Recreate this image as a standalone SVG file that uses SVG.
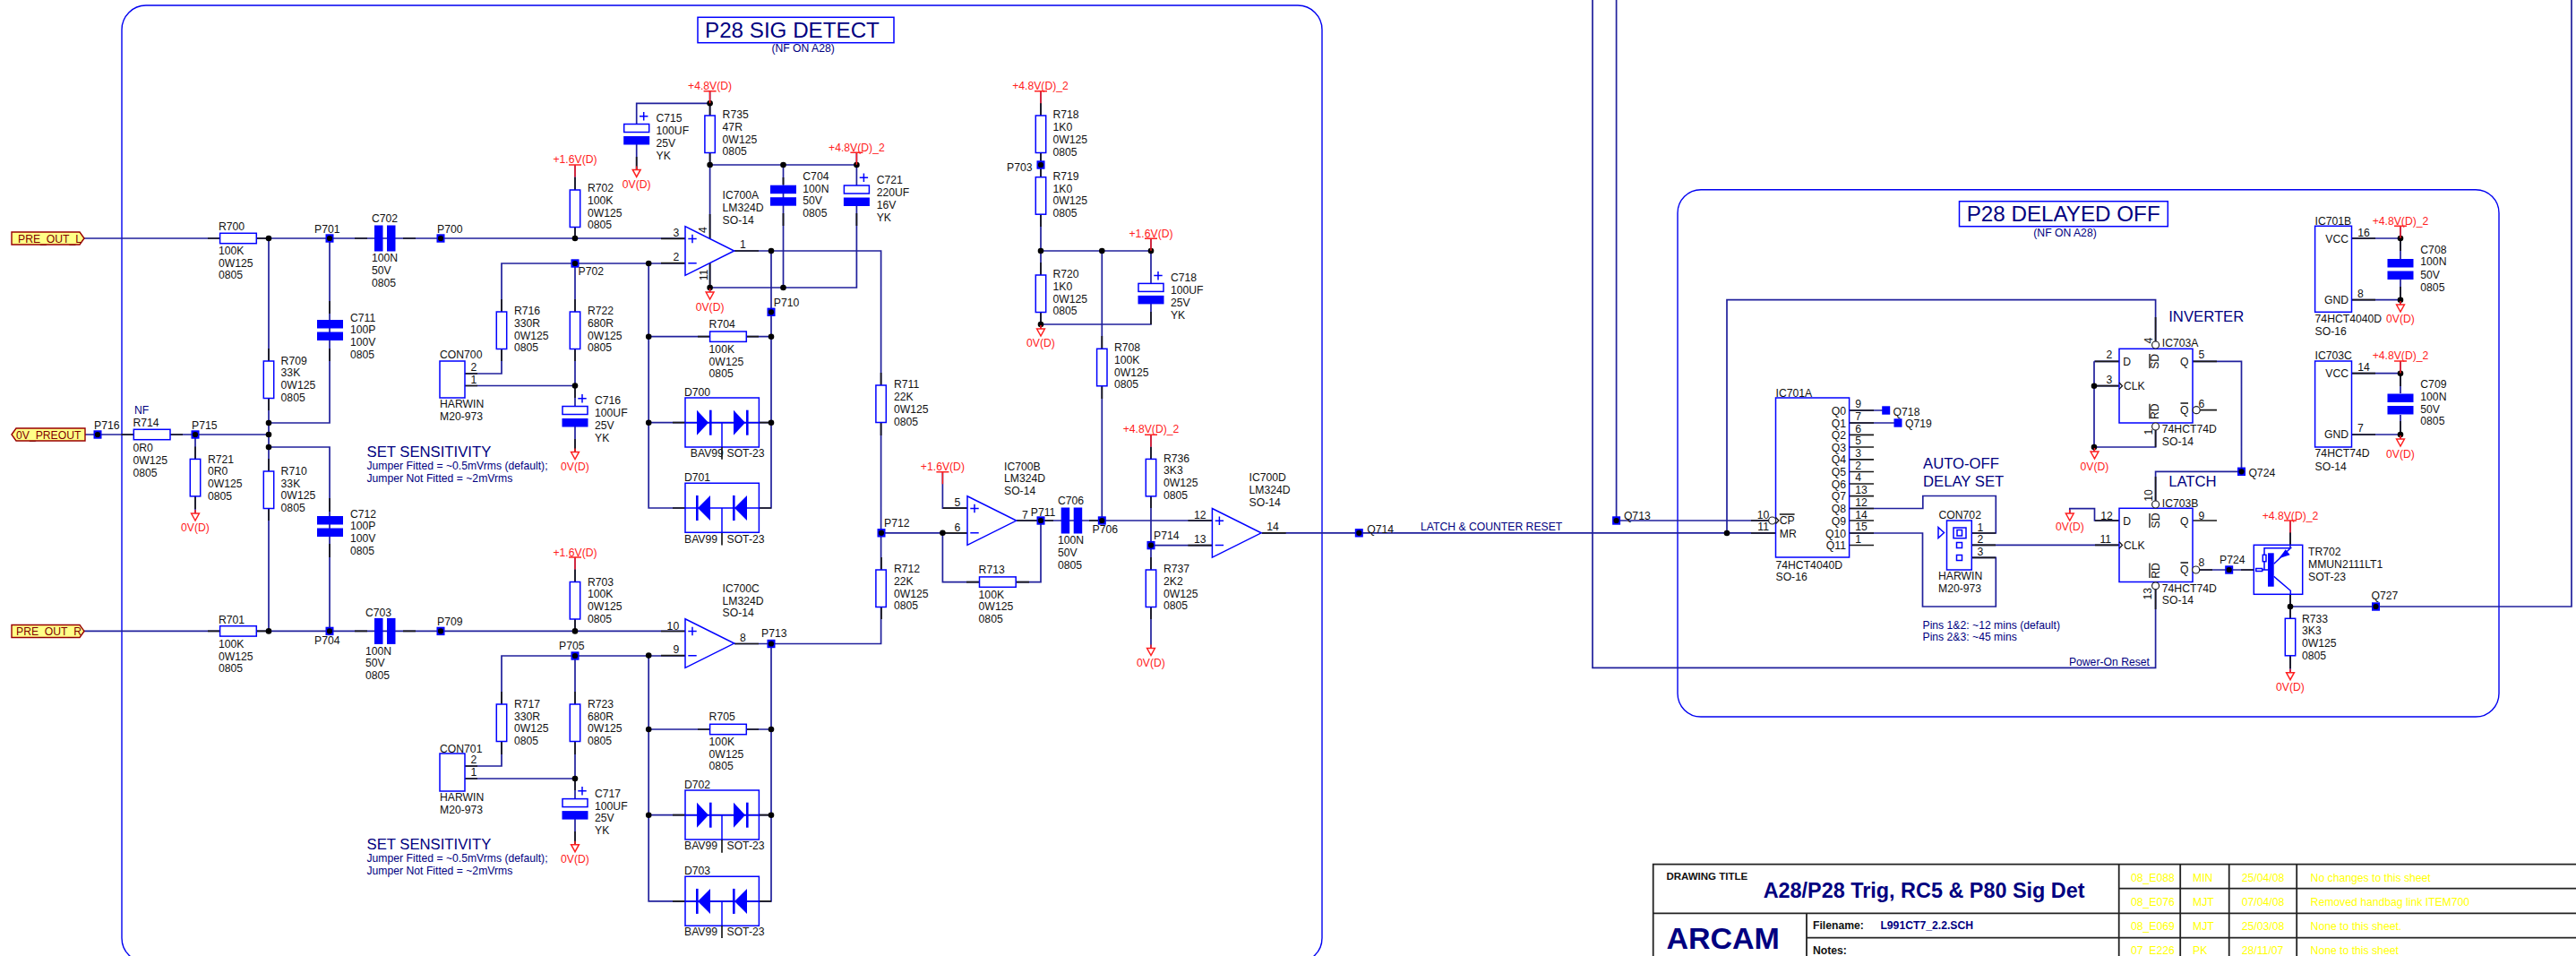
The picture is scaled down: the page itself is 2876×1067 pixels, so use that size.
<svg xmlns="http://www.w3.org/2000/svg" width="2876" height="1067" viewBox="0 0 2876 1067">
<style>
text{font-family:"Liberation Sans",Arial,sans-serif;font-size:12.2px;fill:#111}
.r{fill:#ff2020}.n{fill:#000080}.c{text-anchor:middle}.e{text-anchor:end}
.h{font-size:16.7px}.big{font-size:24.2px}
.b{font-weight:bold}.y{fill:#ffff00}.tag{fill:#800000}
.fr{fill:none;stroke:#0000f0;stroke-width:1.4}
.w{fill:none;stroke:#20209c;stroke-width:1.7}
.s{fill:none;stroke:#1a1a1a;stroke-width:1.7}
.p{fill:#fff;stroke:#0000ff;stroke-width:1.5}
.o{fill:none;stroke:#0000ff;stroke-width:1.5}
.f{fill:#0000ff}
.bl{fill:none;stroke:#0000ff;stroke-width:1.5}
.rl{fill:none;stroke:#ff2020;stroke-width:1.5}
.bb{fill:#fff;stroke:#222;stroke-width:1.2}
.k{fill:none;stroke:#111;stroke-width:1.3}
.tg{fill:#ffff88;stroke:#990000;stroke-width:1.4}
.tb{fill:none;stroke:#222;stroke-width:1.8}
</style>
<defs>
<rect id="rv" class="p" x="-5.7" y="0" width="11.4" height="41.5"/>
<rect id="rh" class="p" x="0" y="-5.7" width="40.7" height="11.4"/>
<g id="cv"><rect class="f" x="-14.5" y="0" width="29" height="9.5"/><rect class="f" x="-14.5" y="13.5" width="29" height="9.5"/></g>
<g id="ch"><rect class="f" x="0" y="-14.5" width="9.5" height="29"/><rect class="f" x="14" y="-14.5" width="9.5" height="29"/></g>
<g id="cp"><rect class="p" x="-14" y="0" width="28" height="9"/><rect class="f" x="-14.5" y="13.5" width="29" height="9.5"/><path class="bl" d="M8 -13.5V-4M3.3 -8.8H12.7"/></g>
<g id="op"><path class="p" d="M0 0V54.6L54.7 27.3Z"/><path class="bl" d="M8 9V18.5M3.3 13.7H12.7M3.3 41H12.7"/></g>
<g id="dr"><path class="o" d="M0 -27.7H82.4V27.3H0Z"/><path class="bl" d="M0 0H82.4M41 0V27.3"/><path class="f" d="M13 -14L26 0L13 14Z"/><rect class="f" x="27" y="-14" width="2.6" height="28"/><path class="f" d="M54 -14L67 0L54 14Z"/><rect class="f" x="68" y="-14" width="2.6" height="28"/></g>
<g id="dl"><path class="o" d="M0 -27.7H82.4V27.3H0Z"/><path class="bl" d="M0 0H82.4M41 0V27.3"/><path class="f" d="M28 -14L14 0L28 14Z"/><rect class="f" x="12" y="-14" width="2.6" height="28"/><path class="f" d="M69 -14L55 0L69 14Z"/><rect class="f" x="53" y="-14" width="2.6" height="28"/></g>
<g id="tp"><rect class="f" x="-4.5" y="-4.7" width="9" height="9.4"/><circle r="3.1" fill="#000"/></g>
<rect id="tq" class="f" x="-4.5" y="-4.7" width="9" height="9.4"/>
<circle id="j" r="3.3" fill="#000"/>
<path id="vt" class="rl" d="M-7 0H7M0 0V13.5"/>
<path id="gn" class="rl" d="M0 -4V0M-4.4 0H4.4L0 8Z"/>
</defs>
<rect width="2876" height="1067" fill="#fff"/>

<g id="frames">
<rect class="fr" x="136" y="6" width="1340" height="1068" rx="27" ry="27"/>
<rect class="fr" x="1873" y="211.7" width="917" height="588.3" rx="26" ry="26"/>
</g>

<g id="connectors">
<path class="w" d="M94 266H765M300 266V704.4M368 266V472H300M300 499H368V704.4M95 485H300M218 485V573M94 704.4H765M642 184V266M519 417H560V294H765M642 294V453M519 430.5H642M642 476V504M642 622V704.4M519 855H560V732H765M642 732V892M519 869H642M642 914V943M710.7 138V115.3H792.6M792.6 102V326M710.7 161V189M792.6 184H956.4M956.4 171V207M956.4 230V321H792.6M874.5 184V321M820 280H983.6V718.5H820M861 280V567H847M765 567H724.2V294M724.2 375.7H861M724.2 471.7H861M861 718.5V1005.9H724.2V731.6M724.2 814H861M724.2 909.7H861M984 594.8H1080M1052.4 527V567.2H1080M1052.4 594.8V649.6H1162V581M1134.8 581H1353.4M1230.3 581V280M1162 102V367M1162 280H1285M1285 267V316M1285 339V362H1162M1285 486V723.5M1285 608.6H1353.4M1408.7 594.8H1982.5M1928 595V334.7H2406.6V381M1778 0V745.3H2406.6V654M1804.6 0V581H1974M2064.6 458H2105M2064.6 472H2119M2064.6 567.5H2146.8V553.5H2228.3V595H2201.3M2064.6 595H2146.5V677H2228.3V622.3H2201.3M2201.3 608.4H2366M2338 403.3H2366M2338 403.3V504M2338 430.7H2366M2338 499H2406.6V480M2448 403.3H2502.5V526.3H2406.6V559M2310.8 573V567.7H2338.5V581H2366M2456 636H2516M2557 581V611.7M2557 663V751M2557 677H2871V0M2625.5 266H2680M2680 252V289M2680 312V340M2625.5 334.7H2680M2625.5 416.7H2680M2680 403V439M2680 463V490M2625.5 485H2680"/>
<path class="s" d="M232 266H246M286 266H300M232 704.4H246M286 704.4H300M135.5 485H149M190.5 485H204M396 266H410M450 266H464M396 704.4H410M450 704.4H464M642 198V212M642 253V267M642 635.5V649.5M642 691V704M642 334V348M642 390V403M560 334V348M560 390V403M560 772V786M560 828V842M642 772V786M642 828V842M300 389V403M300 444V458M300 512V526M300 568V581M218 498.5V512.4M218 554V568M368 336V350M368 389V403M368 556V571M368 607V622M519 417H533M519 430.5H533M519 855H533M519 869H533M642 430V444M642 490V504M642 869V882M642 928V943M792.6 115V129M792.6 170V184M710.7 175V189M738 266.3H765M738 293.7H765M820 280H847M792.6 239V266M792.6 294V321M738 704.5H765M738 731.6H765M820 718.5H847M1053 567.2H1080M1053 594.8H1080M1135 581H1162M1326.4 581H1353.4M1326.4 608.6H1353.4M1408.7 594.8H1435.7M779 375.7H792.6M833.3 375.7H847M779 814H792.6M833.3 814H847M751 471.7H765M847.4 471.7H861M751 567H765M847.4 567H861M751 909.7H765M847.4 909.7H861M751 1005.9H765M847.4 1005.9H861M983.6 416V430M983.6 472V486M984 622V636M984 677.5V691M1079 649.6H1093M1134.8 649.6H1149M1230.3 375V389M1230.3 430.7V445M1162 115V129M1162 170V184M1162 184V198M1162 239V253M1162 293V307M1162 348.7V362M1285 499V512.7M1285 553.7V567M1285 622V636M1285 677.5V691M1162 581H1176M1216 581H1230M1285 348V362M874.5 198V206M874.5 238V252M956.4 238V252M2064.6 458H2092M2064.6 472H2092M2064.6 485.3H2092M2064.6 499H2092M2064.6 512.9H2092M2064.6 526.5H2092M2064.6 540H2092M2064.6 553.7H2092M2064.6 567.5H2092M2064.6 581H2092M2064.6 595H2092M2064.6 608.5H2092M1955 581H1974M1955 595H1982.5M2339 403.3H2366M2339 430.7H2366M2406.6 354V381M2406.6 480V499M2448 403.3H2475M2456 457.7H2475M2201.3 595H2228M2201.3 608.4H2228M2201.3 622.3H2228M2448 581H2475M2339 581H2366M2339 608.4H2366M2406.6 654V680M2406.6 532V559M2456 636H2470M2502 636H2516M2557 677V690M2557 732V746M2557 594V608M2557 663V677M2625.5 266H2652M2625.5 334.7H2652M2625.5 416.7H2652M2625.5 485H2652M2680 266V280M2680 320V334M2680 417V431M2680 470V485"/>
<g id="junctions">
<use href="#j" x="300" y="266"/><use href="#j" x="642" y="266"/><use href="#j" x="300" y="472"/><use href="#j" x="300" y="485"/><use href="#j" x="300" y="499"/><use href="#j" x="300" y="704.4"/><use href="#j" x="642" y="704.4"/><use href="#j" x="642" y="430.5"/><use href="#j" x="642" y="869"/><use href="#j" x="792.6" y="115.3"/><use href="#j" x="792.6" y="184"/><use href="#j" x="874.5" y="184"/><use href="#j" x="956.4" y="184"/><use href="#j" x="792.6" y="321"/><use href="#j" x="874.5" y="321"/><use href="#j" x="861" y="280"/><use href="#j" x="724.2" y="294"/><use href="#j" x="724.2" y="375.7"/><use href="#j" x="861" y="375.7"/><use href="#j" x="724.2" y="471.7"/><use href="#j" x="861" y="471.7"/><use href="#j" x="724.2" y="731.6"/><use href="#j" x="724.2" y="814"/><use href="#j" x="861" y="814"/><use href="#j" x="724.2" y="909.7"/><use href="#j" x="861" y="909.7"/><use href="#j" x="1052.4" y="594.8"/><use href="#j" x="1162" y="280"/><use href="#j" x="1230.3" y="280"/><use href="#j" x="1285" y="280"/><use href="#j" x="1162" y="362"/><use href="#j" x="1928" y="595"/><use href="#j" x="2338" y="430.7"/><use href="#j" x="2338" y="499"/><use href="#j" x="2557" y="677"/><use href="#j" x="2680" y="266"/><use href="#j" x="2680" y="334.7"/><use href="#j" x="2680" y="416.7"/><use href="#j" x="2680" y="485"/>
</g>
</g>

<g id="tag-pre-out-l"><path class="tg" d="M13 259H89L94 266L89 273H13Z"/><text class="tag" x="20" y="270.5">PRE_OUT_L</text></g>
<g id="tag-pre-out-r"><path class="tg" d="M13 697.5H89L94 704.4L89 711.5H13Z"/><text class="tag" x="18" y="709">PRE_OUT_R</text></g>
<g id="tag-0v"><path class="tg" d="M13 485L18 478H95V492H18Z"/><text class="tag" x="18" y="489.5">0V_PREOUT</text></g>

<g id="title-sig"><rect class="p" x="779" y="19.3" width="219" height="28.4"/><text class="n big" x="787" y="41.7">P28 SIG DETECT</text><text class="n" x="861.4" y="58.3">(NF ON A28)</text></g>
<g id="title-off"><rect class="p" x="2187.5" y="224.7" width="232.8" height="28"/><text class="n big" x="2195.7" y="246.7">P28 DELAYED OFF</text><text class="n" x="2270.3" y="264">(NF ON A28)</text></g>

<g id="R700"><use href="#rh" x="245.6" y="266"/><text x="244" y="257">R700</text><text x="244" y="284">100K<tspan x="244" dy="14">0W125</tspan><tspan x="244" dy="13">0805</tspan></text></g>
<g id="R701"><use href="#rh" x="245.6" y="704.4"/><text x="244" y="695.5">R701</text><text x="244" y="722.5">100K<tspan x="244" dy="14">0W125</tspan><tspan x="244" dy="13.8">0805</tspan></text></g>
<g id="R714"><use href="#rh" x="149.3" y="485"/><text class="n" x="150" y="462">NF</text><text x="148.5" y="476">R714</text><text x="148.5" y="503.5">0R0<tspan x="148.5" dy="14">0W125</tspan><tspan x="148.5" dy="14">0805</tspan></text></g>
<g id="R721"><use href="#rv" x="218" y="512.4"/><text x="232" y="516.5">R721<tspan x="232" dy="13.5">0R0</tspan><tspan x="232" dy="14">0W125</tspan><tspan x="232" dy="14">0805</tspan></text><use href="#gn" x="218" y="573"/><text class="r c" x="218" y="592.5">0V(D)</text></g>
<g id="R709"><use href="#rv" x="300" y="403"/><text x="313.6" y="406.5">R709<tspan x="313.6" dy="13.7">33K</tspan><tspan x="313.6" dy="13.8">0W125</tspan><tspan x="313.6" dy="13.5">0805</tspan></text></g>
<g id="R710"><use href="#rv" x="300" y="526"/><text x="313.6" y="529.5">R710<tspan x="313.6" dy="14">33K</tspan><tspan x="313.6" dy="13.5">0W125</tspan><tspan x="313.6" dy="13.5">0805</tspan></text></g>
<g id="C711"><use href="#cv" x="368.5" y="357"/><text x="391" y="358.5">C711<tspan x="391" dy="13.5">100P</tspan><tspan x="391" dy="13.5">100V</tspan><tspan x="391" dy="14">0805</tspan></text></g>
<g id="C712"><use href="#cv" x="368.5" y="576"/><text x="391" y="577.5">C712<tspan x="391" dy="13.5">100P</tspan><tspan x="391" dy="14">100V</tspan><tspan x="391" dy="13.5">0805</tspan></text></g>
<g id="C702"><use href="#ch" x="418" y="266"/><text x="415" y="248">C702</text><text x="415" y="292">100N<tspan x="415" dy="14">50V</tspan><tspan x="415" dy="14">0805</tspan></text></g>
<g id="C703"><use href="#ch" x="418" y="704.4"/><text x="408" y="687.5">C703</text><text x="408" y="730.5">100N<tspan x="408" dy="13.8">50V</tspan><tspan x="408" dy="14">0805</tspan></text></g>
<g id="P701"><use href="#tp" x="368" y="266"/><text x="351" y="260">P701</text></g>
<g id="P700"><use href="#tp" x="492" y="266"/><text x="488" y="260">P700</text></g>
<g id="P716"><use href="#tp" x="109" y="485"/><text x="105" y="479">P716</text></g>
<g id="P715"><use href="#tp" x="218" y="485"/><text x="214" y="479">P715</text></g>
<g id="P704"><use href="#tp" x="368" y="704.4"/><text x="351" y="718.5">P704</text></g>
<g id="P709"><use href="#tp" x="492" y="704.4"/><text x="488" y="698">P709</text></g>
<g id="P702"><use href="#tp" x="642" y="294"/><text x="645.5" y="307">P702</text></g>
<g id="P705"><use href="#tp" x="642" y="732"/><text x="624" y="725">P705</text></g>

<g id="R702"><use href="#vt" x="642" y="184"/><text class="r c" x="642" y="182">+1.6V(D)</text><use href="#rv" x="642" y="212"/><text x="656" y="214">R702<tspan x="656" dy="14">100K</tspan><tspan x="656" dy="14.3">0W125</tspan><tspan x="656" dy="13">0805</tspan></text></g>
<g id="R703"><use href="#vt" x="642" y="622"/><text class="r c" x="642" y="620.5">+1.6V(D)</text><use href="#rv" x="642" y="649.5"/><text x="656" y="653.5">R703<tspan x="656" dy="13">100K</tspan><tspan x="656" dy="14">0W125</tspan><tspan x="656" dy="14">0805</tspan></text></g>
<g id="R716"><use href="#rv" x="560" y="348"/><text x="574" y="351">R716<tspan x="574" dy="14">330R</tspan><tspan x="574" dy="14">0W125</tspan><tspan x="574" dy="13">0805</tspan></text></g>
<g id="R722"><use href="#rv" x="642" y="348"/><text x="656" y="351">R722<tspan x="656" dy="14">680R</tspan><tspan x="656" dy="14">0W125</tspan><tspan x="656" dy="13">0805</tspan></text></g>
<g id="R717"><use href="#rv" x="560" y="786"/><text x="574" y="789.5">R717<tspan x="574" dy="14">330R</tspan><tspan x="574" dy="13.8">0W125</tspan><tspan x="574" dy="14">0805</tspan></text></g>
<g id="R723"><use href="#rv" x="642" y="786"/><text x="656" y="789.5">R723<tspan x="656" dy="14">680R</tspan><tspan x="656" dy="13.8">0W125</tspan><tspan x="656" dy="14">0805</tspan></text></g>
<g id="CON700"><rect class="o" x="491" y="403" width="28" height="41"/><text x="491" y="400">CON700</text><text class="c" x="529" y="414">2</text><text class="c" x="529" y="428">1</text><text x="491" y="455">HARWIN<tspan x="491" dy="14">M20-973</tspan></text></g>
<g id="CON701"><rect class="o" x="491" y="841" width="28" height="42"/><text x="491" y="839.5">CON701</text><text class="c" x="529" y="852">2</text><text class="c" x="529" y="866">1</text><text x="491" y="893.5">HARWIN<tspan x="491" dy="14">M20-973</tspan></text></g>
<g id="C716"><use href="#cp" x="642" y="453.5"/><text x="664" y="451">C716<tspan x="664" dy="14">100UF</tspan><tspan x="664" dy="14">25V</tspan><tspan x="664" dy="14">YK</tspan></text><use href="#gn" x="642" y="504.5"/><text class="r c" x="642" y="524.5">0V(D)</text></g>
<g id="C717"><use href="#cp" x="642" y="891.6"/><text x="664" y="890">C717<tspan x="664" dy="13.5">100UF</tspan><tspan x="664" dy="13.5">25V</tspan><tspan x="664" dy="14">YK</tspan></text><use href="#gn" x="642" y="942.7"/><text class="r c" x="642" y="962.5">0V(D)</text></g>
<g id="note-sens1"><text class="n h" x="409.5" y="509.6">SET SENSITIVITY</text><text class="n" x="409.5" y="524">Jumper Fitted = ~0.5mVrms (default);<tspan x="409.5" dy="13.5">Jumper Not Fitted = ~2mVrms</tspan></text></g>
<g id="note-sens2"><text class="n h" x="409.5" y="948">SET SENSITIVITY</text><text class="n" x="409.5" y="962">Jumper Fitted = ~0.5mVrms (default);<tspan x="409.5" dy="14">Jumper Not Fitted = ~2mVrms</tspan></text></g>

<g id="C715"><use href="#cp" x="710.7" y="138.5"/><text x="732.5" y="136">C715<tspan x="732.5" dy="14">100UF</tspan><tspan x="732.5" dy="14">25V</tspan><tspan x="732.5" dy="13.5">YK</tspan></text><use href="#gn" x="710.7" y="189.4"/><text class="r c" x="710.7" y="209.5">0V(D)</text></g>
<g id="R735"><use href="#vt" x="792.6" y="101.7"/><text class="r c" x="792.6" y="99.5">+4.8V(D)</text><use href="#rv" x="792.6" y="129"/><text x="806.6" y="132">R735<tspan x="806.6" dy="14">47R</tspan><tspan x="806.6" dy="13.5">0W125</tspan><tspan x="806.6" dy="13.8">0805</tspan></text></g>
<g id="C704"><use href="#cv" x="874.5" y="206.7"/><text x="896.3" y="201">C704<tspan x="896.3" dy="13.5">100N</tspan><tspan x="896.3" dy="13.5">50V</tspan><tspan x="896.3" dy="14">0805</tspan></text></g>
<g id="C721"><use href="#vt" x="956.4" y="170.3"/><text class="r c" x="956.4" y="168.5">+4.8V(D)_2</text><use href="#cp" x="956.4" y="207"/><text x="978.7" y="205">C721<tspan x="978.7" dy="13.5">220UF</tspan><tspan x="978.7" dy="14">16V</tspan><tspan x="978.7" dy="14">YK</tspan></text></g>
<g id="IC700A"><use href="#op" x="765" y="252.7"/><text x="806.6" y="222">IC700A<tspan x="806.6" dy="14">LM324D</tspan><tspan x="806.6" dy="14">SO-14</tspan></text><text class="c" x="754.8" y="264">3</text><text class="c" x="754.8" y="291">2</text><text class="c" x="829.4" y="277">1</text><text class="c" transform="rotate(-90 789.5 256.7)" x="789.5" y="256.7">4</text><text class="c" transform="rotate(-90 789.5 307)" x="789.5" y="307">11</text><use href="#gn" x="792.6" y="326"/><text class="r c" x="792.6" y="346.5">0V(D)</text></g>
<g id="P710"><use href="#tp" x="861" y="348.3"/><text x="863.8" y="342">P710</text></g>
<g id="R704"><use href="#rh" x="792.6" y="375.7"/><text x="791.6" y="366">R704</text><text x="791.6" y="394">100K<tspan x="791.6" dy="14">0W125</tspan><tspan x="791.6" dy="13">0805</tspan></text></g>
<g id="D700"><use href="#dr" x="765" y="471.7"/><path class="s" d="M806 499V512.7"/><text x="764" y="442">D700</text><text x="770.8" y="510">BAV99</text><text x="811.5" y="510">SOT-23</text></g>
<g id="D701"><use href="#dl" x="765" y="567"/><path class="s" d="M806 595V608.6"/><text x="764" y="537">D701</text><text x="764" y="606">BAV99</text><text x="811.5" y="606">SOT-23</text></g>
<g id="IC700C"><use href="#op" x="765" y="690.8"/><text x="806.6" y="661">IC700C<tspan x="806.6" dy="13.5">LM324D</tspan><tspan x="806.6" dy="13.5">SO-14</tspan></text><text class="c" x="751.4" y="702.5">10</text><text class="c" x="754.8" y="729">9</text><text class="c" x="829.4" y="715.5">8</text></g>
<g id="P713"><use href="#tp" x="861" y="718.5"/><text x="850" y="711">P713</text></g>
<g id="R705"><use href="#rh" x="792.6" y="814"/><text x="791.6" y="804">R705</text><text x="791.6" y="832">100K<tspan x="791.6" dy="14">0W125</tspan><tspan x="791.6" dy="13">0805</tspan></text></g>
<g id="D702"><use href="#dr" x="765" y="909.7"/><path class="s" d="M806 937V951.8"/><text x="764" y="880">D702</text><text x="764" y="948">BAV99</text><text x="811.5" y="948">SOT-23</text></g>
<g id="D703"><use href="#dl" x="765" y="1005.9"/><path class="s" d="M806 1033V1047"/><text x="764" y="976">D703</text><text x="764" y="1044">BAV99</text><text x="811.5" y="1044">SOT-23</text></g>

<g id="R711"><use href="#rv" x="983.6" y="430"/><text x="998" y="433">R711<tspan x="998" dy="14">22K</tspan><tspan x="998" dy="14">0W125</tspan><tspan x="998" dy="13.5">0805</tspan></text></g>
<g id="R712"><use href="#rv" x="983.6" y="636"/><text x="998" y="639">R712<tspan x="998" dy="14">22K</tspan><tspan x="998" dy="13.5">0W125</tspan><tspan x="998" dy="13.5">0805</tspan></text></g>
<g id="P712"><use href="#tp" x="984" y="594.8"/><text x="987" y="588">P712</text></g>
<g id="IC700B"><use href="#vt" x="1052.4" y="526.7"/><text class="r c" x="1052.4" y="524.8">+1.6V(D)</text><use href="#op" x="1080" y="553.8"/><text x="1121" y="524.5">IC700B<tspan x="1121" dy="13">LM324D</tspan><tspan x="1121" dy="14">SO-14</tspan></text><text class="c" x="1069" y="565">5</text><text class="c" x="1069" y="592.5">6</text><text class="c" x="1144.5" y="579">7</text></g>
<g id="P711"><use href="#tp" x="1162" y="581"/><text x="1150.8" y="575.5">P711</text></g>
<g id="R713"><use href="#rh" x="1093.5" y="649.6"/><text x="1092.6" y="640">R713</text><text x="1092.6" y="668">100K<tspan x="1092.6" dy="13">0W125</tspan><tspan x="1092.6" dy="14">0805</tspan></text></g>
<g id="C706"><use href="#ch" x="1184.7" y="581"/><text x="1180.9" y="563">C706</text><text x="1180.9" y="607">100N<tspan x="1180.9" dy="14">50V</tspan><tspan x="1180.9" dy="14">0805</tspan></text></g>
<g id="P706"><use href="#tp" x="1230.3" y="581"/><text x="1219.6" y="595">P706</text></g>
<g id="R708"><use href="#rv" x="1230.3" y="389.3"/><text x="1243.9" y="392">R708<tspan x="1243.9" dy="14">100K</tspan><tspan x="1243.9" dy="14">0W125</tspan><tspan x="1243.9" dy="13">0805</tspan></text></g>
<g id="R718"><use href="#vt" x="1162" y="101.7"/><text class="r c" x="1161.5" y="99.5">+4.8V(D)_2</text><use href="#rv" x="1162" y="129"/><text x="1175.5" y="132">R718<tspan x="1175.5" dy="14">1K0</tspan><tspan x="1175.5" dy="13.5">0W125</tspan><tspan x="1175.5" dy="14">0805</tspan></text></g>
<g id="P703"><use href="#tp" x="1162" y="184"/><text x="1124" y="191">P703</text></g>
<g id="R719"><use href="#rv" x="1162" y="197.7"/><text x="1175.5" y="201">R719<tspan x="1175.5" dy="13.5">1K0</tspan><tspan x="1175.5" dy="13.5">0W125</tspan><tspan x="1175.5" dy="14">0805</tspan></text></g>
<g id="R720"><use href="#rv" x="1162" y="307"/><text x="1175.5" y="310">R720<tspan x="1175.5" dy="14">1K0</tspan><tspan x="1175.5" dy="14">0W125</tspan><tspan x="1175.5" dy="13">0805</tspan></text><use href="#gn" x="1162" y="367"/><text class="r c" x="1162" y="387">0V(D)</text></g>
<g id="C718"><use href="#vt" x="1285" y="266.3"/><text class="r c" x="1285" y="264.5">+1.6V(D)</text><use href="#cp" x="1285" y="316.4"/><text x="1306.9" y="314">C718<tspan x="1306.9" dy="14">100UF</tspan><tspan x="1306.9" dy="14">25V</tspan><tspan x="1306.9" dy="13.5">YK</tspan></text></g>
<g id="R736"><use href="#vt" x="1285" y="485.3"/><text class="r c" x="1285" y="483">+4.8V(D)_2</text><use href="#rv" x="1285" y="512.4"/><text x="1299" y="516">R736<tspan x="1299" dy="13">3K3</tspan><tspan x="1299" dy="14">0W125</tspan><tspan x="1299" dy="14">0805</tspan></text></g>
<g id="P714"><use href="#tp" x="1285" y="608.6"/><text x="1288" y="602">P714</text></g>
<g id="R737"><use href="#rv" x="1285" y="636"/><text x="1299" y="639">R737<tspan x="1299" dy="14">2K2</tspan><tspan x="1299" dy="13.5">0W125</tspan><tspan x="1299" dy="13.5">0805</tspan></text><use href="#gn" x="1285" y="723.5"/><text class="r c" x="1285" y="743.5">0V(D)</text></g>
<g id="IC700D"><use href="#op" x="1353.4" y="567.5"/><text x="1394.6" y="537">IC700D<tspan x="1394.6" dy="14">LM324D</tspan><tspan x="1394.6" dy="14">SO-14</tspan></text><text class="c" x="1339.8" y="579">12</text><text class="c" x="1339.8" y="606">13</text><text class="c" x="1421" y="592">14</text></g>
<g id="Q714"><use href="#tp" x="1517.3" y="594.8"/><text x="1526.3" y="594.5">Q714</text><text class="n" x="1586" y="592.3">LATCH &amp; COUNTER RESET</text></g>
<g id="Q713"><use href="#tp" x="1804.6" y="581"/><text x="1812.9" y="580">Q713</text></g>

<g id="IC701A"><rect class="o" x="1982.5" y="444" width="82.1" height="178"/><circle class="bb" cx="1978.6" cy="581" r="4"/><path class="k" d="M1982.5 577.5L1986 581L1982.5 584.5M1986.8 574H2003.6"/><text x="1982.5" y="442.5">IC701A</text><text x="1986.8" y="585">CP</text><text x="1986.8" y="599.5">MR</text><text class="c" x="1968.6" y="579">10</text><text class="c" x="1968.6" y="592">11</text>
<text class="e" x="2061" y="462.5">Q0</text><text class="e" x="2061" y="476.5">Q1</text><text class="e" x="2061" y="489.8">Q2</text><text class="e" x="2061" y="503.5">Q3</text><text class="e" x="2061" y="517.4">Q4</text><text class="e" x="2061" y="531">Q5</text><text class="e" x="2061" y="544.5">Q6</text><text class="e" x="2061" y="558.2">Q7</text><text class="e" x="2061" y="572">Q8</text><text class="e" x="2061" y="585.5">Q9</text><text class="e" x="2061" y="599.5">Q10</text><text class="e" x="2061" y="613">Q11</text>
<text class="c" x="2074.6" y="455">9</text><text class="c" x="2074.6" y="469">7</text><text class="c" x="2074.6" y="482.5">6</text><text class="c" x="2074.6" y="496">5</text><text class="c" x="2074.6" y="510">3</text><text class="c" x="2074.6" y="523.5">2</text><text class="c" x="2074.6" y="537">4</text><text class="c" x="2078" y="551">13</text><text class="c" x="2078" y="565">12</text><text class="c" x="2078" y="578.5">14</text><text class="c" x="2078" y="592">15</text><text class="c" x="2074.6" y="606">1</text>
<text x="1982.5" y="634.5">74HCT4040D<tspan x="1982.5" dy="13">SO-16</tspan></text></g>
<g id="Q718"><use href="#tq" x="2105.7" y="458"/><text x="2113.6" y="464">Q718</text></g>
<g id="Q719"><use href="#tq" x="2119" y="472"/><text x="2127" y="477">Q719</text></g>
<g id="note-auto"><text class="n h" x="2147" y="523">AUTO-OFF</text><text class="n h" x="2147" y="543">DELAY SET</text><text class="n" x="2146.5" y="702">Pins 1&amp;2: ~12 mins (default)<tspan x="2146.5" dy="13">Pins 2&amp;3: ~45 mins</tspan></text><text class="n e" x="2400" y="743">Power-On Reset</text></g>
<g id="CON702"><rect class="o" x="2173.5" y="581" width="27.8" height="55"/><rect class="o" x="2181" y="589" width="14" height="11.7"/><rect class="o" x="2185" y="591.5" width="5.5" height="6.5"/><rect class="o" x="2184.5" y="605.5" width="6" height="6"/><rect class="o" x="2184.5" y="619.5" width="6" height="6"/><path class="o" d="M2164 588.5L2170.5 594.5L2164 600.5Z"/><text x="2164.5" y="579">CON702</text><text class="c" x="2211" y="592.5">1</text><text class="c" x="2211" y="606">2</text><text class="c" x="2211" y="620">3</text><text x="2164" y="647">HARWIN<tspan x="2164" dy="14">M20-973</tspan></text></g>

<g id="IC703A"><rect class="o" x="2366" y="389.3" width="82" height="82.7"/><circle class="bb" cx="2406.6" cy="385" r="4"/><circle class="bb" cx="2406.6" cy="476" r="4"/><circle class="bb" cx="2452.2" cy="457.7" r="4"/><path class="k" d="M2366 427L2369.5 430.7L2366 434.4M2400 395V411M2400 450.7V467.3M2434.5 450H2443"/><text x="2413.8" y="387">IC703A</text><text x="2370.3" y="408">D</text><text x="2371" y="435">CLK</text><text x="2434" y="408">Q</text><text x="2434" y="462">Q</text><text class="c" transform="rotate(-90 2410.5 403.3)" x="2410.5" y="403.3">SD</text><text class="c" transform="rotate(-90 2410.5 459.3)" x="2410.5" y="459.3">RD</text><text class="c" x="2354.8" y="400">2</text><text class="c" x="2354.8" y="428">3</text><text class="c" x="2457.8" y="400">5</text><text class="c" x="2457.8" y="454.5">6</text><text class="c" transform="rotate(-90 2402.5 380)" x="2402.5" y="380">4</text><text class="c" transform="rotate(-90 2402.5 482)" x="2402.5" y="482">1</text><text x="2413.8" y="483">74HCT74D<tspan x="2413.8" dy="14">SO-14</tspan></text><use href="#gn" x="2338.5" y="504"/><text class="r c" x="2338.5" y="524.5">0V(D)</text></g>
<g id="note-inv"><text class="n h" x="2421.2" y="359.3">INVERTER</text><text class="n h" x="2421.2" y="543.3">LATCH</text></g>
<g id="Q724"><use href="#tp" x="2502.5" y="526.3"/><text x="2510.4" y="532">Q724</text></g>
<g id="IC703B"><rect class="o" x="2366" y="567.3" width="82" height="82.2"/><circle class="bb" cx="2406.6" cy="563" r="4"/><circle class="bb" cx="2406.6" cy="653.8" r="4"/><circle class="bb" cx="2451.7" cy="636" r="4"/><path class="k" d="M2366 604.7L2369.5 608.4L2366 612.1M2400 573V589M2400 628.4V645M2434.5 628H2443"/><text x="2413.8" y="565.5">IC703B</text><text x="2370.3" y="585.5">D</text><text x="2371" y="613">CLK</text><text x="2434" y="585.5">Q</text><text x="2434" y="640">Q</text><text class="c" transform="rotate(-90 2410.5 581)" x="2410.5" y="581">SD</text><text class="c" transform="rotate(-90 2410.5 637)" x="2410.5" y="637">RD</text><text class="c" x="2352" y="579.5">12</text><text class="c" x="2350.8" y="606">11</text><text class="c" x="2457.8" y="579.5">9</text><text class="c" x="2458" y="632">8</text><text class="c" transform="rotate(-90 2402.5 553)" x="2402.5" y="553">10</text><text class="c" transform="rotate(-90 2402.5 662.7)" x="2402.5" y="662.7">13</text><text x="2413.8" y="660.5">74HCT74D<tspan x="2413.8" dy="13.5">SO-14</tspan></text><use href="#gn" x="2310.8" y="573"/><text class="r c" x="2311" y="592">0V(D)</text></g>
<g id="P724"><use href="#tp" x="2488.7" y="636"/><text x="2478" y="629">P724</text></g>
<g id="TR702"><use href="#vt" x="2557" y="581"/><text class="r c" x="2557" y="579.5">+4.8V(D)_2</text><rect class="o" x="2516.3" y="608.3" width="54.4" height="55"/><rect class="o" x="2518.7" y="634.5" width="7" height="3"/><rect class="o" x="2526.3" y="619.3" width="3.7" height="7.4"/><rect class="f" x="2532" y="617.3" width="6.7" height="37.4"/><path class="bl" d="M2525.7 636H2532M2528 619.3V611.7H2557.3L2538.7 629.3M2528 626.7V636M2538.7 643.3L2557.3 659.3V663.3"/><path class="f" d="M2544.3 623.3L2551.7 613.3L2556.7 619.3Z"/><text x="2577" y="620">TR702<tspan x="2577" dy="14">MMUN2111LT1</tspan><tspan x="2577" dy="13.5">SOT-23</tspan></text></g>
<g id="Q727"><use href="#tp" x="2652.5" y="677"/><text x="2647.5" y="669">Q727</text></g>
<g id="R733"><use href="#rv" x="2557" y="690.3"/><text x="2570" y="694.5">R733<tspan x="2570" dy="13">3K3</tspan><tspan x="2570" dy="14">0W125</tspan><tspan x="2570" dy="14">0805</tspan></text><use href="#gn" x="2557" y="750.7"/><text class="r c" x="2557" y="770.5">0V(D)</text></g>

<g id="IC701B"><rect class="o" x="2584.6" y="252.3" width="40.9" height="96"/><text x="2584.6" y="250.5">IC701B</text><text class="e" x="2622" y="271">VCC</text><text class="e" x="2622" y="339">GND</text><text class="c" x="2639" y="264">16</text><text class="c" x="2635.4" y="332">8</text><text x="2584.6" y="359.5">74HCT4040D<tspan x="2584.6" dy="14">SO-16</tspan></text></g>
<g id="C708"><use href="#vt" x="2680" y="252.3"/><text class="r c" x="2680" y="250.5">+4.8V(D)_2</text><use href="#cv" x="2680" y="289"/><text x="2702.3" y="283">C708<tspan x="2702.3" dy="13">100N</tspan><tspan x="2702.3" dy="14.5">50V</tspan><tspan x="2702.3" dy="14">0805</tspan></text><use href="#gn" x="2680" y="340"/><text class="r c" x="2680" y="359.5">0V(D)</text></g>
<g id="IC703C"><rect class="o" x="2584.6" y="403" width="40.9" height="96"/><text x="2584.6" y="400.5">IC703C</text><text class="e" x="2622" y="421">VCC</text><text class="e" x="2622" y="489">GND</text><text class="c" x="2639" y="414">14</text><text class="c" x="2635.4" y="482">7</text><text x="2584.6" y="510">74HCT74D<tspan x="2584.6" dy="14.5">SO-14</tspan></text></g>
<g id="C709"><use href="#vt" x="2680" y="403"/><text class="r c" x="2680" y="400.5">+4.8V(D)_2</text><use href="#cv" x="2680" y="439.5"/><text x="2702.3" y="433">C709<tspan x="2702.3" dy="14">100N</tspan><tspan x="2702.3" dy="14">50V</tspan><tspan x="2702.3" dy="13">0805</tspan></text><use href="#gn" x="2680" y="490"/><text class="r c" x="2680" y="510.5">0V(D)</text></g>

<g id="title-block">
<path class="tb" d="M2876 964.7H1845.7V1067M1845.7 1019.3H2876M2017 1046.7H2876M2017 1019.3V1067M2365.7 964.7V1067M2434.2 964.7V1067M2488.7 964.7V1067M2564.2 964.7V1067M2365.7 991.7H2876"/>
<text class="b" style="font-size:11.5px" x="1860.4" y="982.3">DRAWING TITLE</text>
<text class="b n" style="font-size:23.4px" x="1968.7" y="1001.7">A28/P28 Trig, RC5 &amp; P80 Sig Det</text>
<text class="b n" style="font-size:34px" x="1860.4" y="1059">ARCAM</text>
<text class="b" x="2024" y="1037">Filename:</text><text class="b n" x="2099.4" y="1037">L991CT7_2.2.SCH</text>
<text class="b" x="2024" y="1064.5">Notes:</text>
<text class="y" x="2379" y="983.5">08_E088</text><text class="y" x="2448" y="983.5">MIN</text><text class="y" x="2502.8" y="983.5">25/04/08</text><text class="y" x="2579.6" y="983.5">No changes to this sheet</text>
<text class="y" x="2379" y="1010.5">08_E076</text><text class="y" x="2448" y="1010.5">MJT</text><text class="y" x="2502.8" y="1010.5">07/04/08</text><text class="y" x="2579.6" y="1010.5">Removed handbag link ITEM700</text>
<text class="y" x="2379" y="1038">08_E069</text><text class="y" x="2448" y="1038">MJT</text><text class="y" x="2502.8" y="1038">25/03/08</text><text class="y" x="2579.6" y="1038">None to this sheet.</text>
<text class="y" x="2379" y="1065">07_E226</text><text class="y" x="2448" y="1065">PK</text><text class="y" x="2502.8" y="1065">28/11/07</text><text class="y" x="2579.6" y="1065">None to this sheet</text>
</g>
</svg>
